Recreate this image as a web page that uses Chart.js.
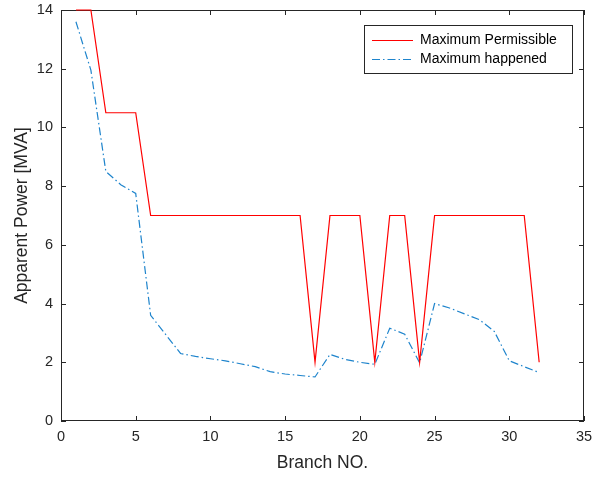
<!DOCTYPE html>
<html>
<head>
<meta charset="utf-8">
<script src="https://cdn.jsdelivr.net/npm/chart.js@4"></script>
<style>
  html, body { margin: 0; padding: 0; background: #fff; }
  #wrap { width: 605px; height: 477px; }
</style>
</head>
<body>
<div id="wrap"><canvas id="myChart"></canvas></div>
<script>
// data
var branches = [1,2,3,4,5,6,7,8,9,10,11,12,13,14,15,16,17,18,19,20,21,22,23,24,25,26,27,28,29,30,31,32];
var maxPermissible = [14,14,10.5,10.5,10.5,7,7,7,7,7,7,7,7,7,7,7,2,7,7,7,2,7,7,2,7,7,7,7,7,7,7,2];
var maxHappened = [13.6,11.95,8.5,8.05,7.75,3.6,2.95,2.3,2.2,2.12,2.05,1.95,1.85,1.68,1.6,1.55,1.5,2.27,2.1,2.0,1.93,3.16,2.96,1.98,4.0,3.85,3.65,3.45,3.05,2.05,1.85,1.65];
var xTicks = [0,5,10,15,20,25,30,35];
var yTicks = [0,2,4,6,8,10,12,14];

var axisColor = '#262626';
var fontFam = 'Arial, "Liberation Sans", Helvetica, sans-serif';

function pts(vals) {
  return branches.map(function (b, i) { return {x: b, y: vals[i]}; });
}

// box around plot + inward ticks on all four sides (matlab style)
// drawn before the lines so the red line at 14 stays on top of the border
var boxPlugin = {
  id: 'boxTicks',
  beforeDatasetsDraw: function (chart) {
    var ctx = chart.ctx, a = chart.chartArea;
    var xs = chart.scales.x, ys = chart.scales.y;
    ctx.save();
    ctx.strokeStyle = axisColor;
    ctx.lineWidth = 1;
    ctx.strokeRect(a.left + 0.5, a.top + 0.5, a.right - a.left - 1, a.bottom - a.top - 1);
    ctx.beginPath();
    xTicks.forEach(function (v) {
      var px = Math.round(xs.getPixelForValue(v)) + 0.5;
      ctx.moveTo(px, a.bottom); ctx.lineTo(px, a.bottom - 5);
      ctx.moveTo(px, a.top); ctx.lineTo(px, a.top + 5);
    });
    yTicks.forEach(function (v) {
      var py = Math.round(ys.getPixelForValue(v)) + 0.5;
      ctx.moveTo(a.left, py); ctx.lineTo(a.left + 5, py);
      ctx.moveTo(a.right, py); ctx.lineTo(a.right - 5, py);
    });
    ctx.stroke();
    ctx.restore();
  }
};

// legend box in upper right of the axes
var legendPlugin = {
  id: 'boxLegend',
  afterDraw: function (chart) {
    var ctx = chart.ctx;
    var bx = 364, by = 25, bw = 208, bh = 48;
    ctx.save();
    ctx.fillStyle = '#fff';
    ctx.fillRect(bx, by, bw, bh);
    ctx.strokeStyle = axisColor;
    ctx.lineWidth = 1;
    ctx.strokeRect(bx + 0.5, by + 0.5, bw, bh);
    ctx.font = '14px ' + fontFam;
    ctx.textBaseline = 'middle';
    chart.data.datasets.forEach(function (ds, i) {
      var ry = by + 15 + i * 19;
      ctx.strokeStyle = ds.borderColor;
      ctx.lineWidth = ds.borderWidth;
      ctx.setLineDash(ds.borderDash || []);
      ctx.beginPath();
      ctx.moveTo(bx + 8, ry + 0.5);
      ctx.lineTo(bx + 49, ry + 0.5);
      ctx.stroke();
      ctx.setLineDash([]);
      ctx.fillStyle = '#000';
      ctx.fillText(ds.label, bx + 56, ry);
    });
    ctx.restore();
  }
};

var ctx1 = document.getElementById('myChart').getContext('2d');
var myChart = new Chart(ctx1, {
  type: 'line',
  data: {
    datasets: [{
      label: 'Maximum Permissible',
      data: pts(maxPermissible),
      borderColor: '#ff0000',
      borderWidth: 1.2,
      pointRadius: 0,
      tension: 0,
      fill: false,
      clip: 2
    }, {
      label: 'Maximum happened',
      data: pts(maxHappened),
      borderColor: '#1e84cc',
      borderWidth: 1.2,
      borderDash: [8, 3, 1.5, 3],
      pointRadius: 0,
      tension: 0,
      fill: false
    }]
  },
  options: {
    responsive: true,
    maintainAspectRatio: false,
    animation: false,
    layout: { padding: { top: 10, right: 21, left: 0, bottom: 0 } },
    plugins: {
      legend: { display: false },
      tooltip: { enabled: false }
    },
    scales: {
      x: {
        type: 'linear',
        min: 0,
        max: 35,
        afterFit: function (s) { s.height = 56; s.paddingLeft = 0; s.paddingRight = 0; },
        afterBuildTicks: function (s) { s.ticks = xTicks.map(function (v) { return {value: v}; }); },
        grid: { display: false, drawTicks: false },
        border: { display: false },
        ticks: { padding: 7, color: axisColor, font: { size: 14.5, family: fontFam }, maxRotation: 0 },
        title: { display: true, text: 'Branch NO.', color: axisColor, font: { size: 17.5, family: fontFam }, padding: { bottom: 3 } }
      },
      y: {
        min: 0,
        max: 14,
        afterFit: function (s) { s.width = 61; s.paddingTop = 0; s.paddingBottom = 0; },
        afterBuildTicks: function (s) { s.ticks = yTicks.map(function (v) { return {value: v}; }); },
        grid: { display: false, drawTicks: false },
        border: { display: false },
        ticks: { padding: 8, color: axisColor, font: { size: 14.5, family: fontFam } },
        title: { display: true, text: 'Apparent Power [MVA]', color: axisColor, font: { size: 17.5, family: fontFam }, padding: { top: 12 } }
      }
    }
  },
  plugins: [boxPlugin, legendPlugin]
});
</script>
</body>
</html>
